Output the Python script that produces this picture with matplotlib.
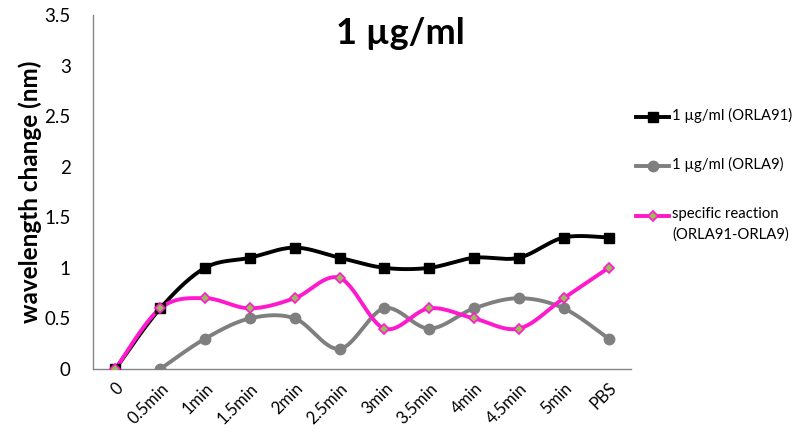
import numpy as np
import matplotlib
matplotlib.use("Agg")
import matplotlib.pyplot as plt
from matplotlib.lines import Line2D

plt.rcParams['font.family'] = ['Lato', 'DejaVu Sans']

categories = ["0", "0.5min", "1min", "1.5min", "2min", "2.5min", "3min",
              "3.5min", "4min", "4.5min", "5min", "PBS"]
orla91 = [0, 0.6, 1.0, 1.1, 1.2, 1.1, 1.0, 1.0, 1.1, 1.1, 1.3, 1.3]
orla9 = [np.nan, 0, 0.3, 0.5, 0.5, 0.2, 0.6, 0.4, 0.6, 0.7, 0.6, 0.3]
specific = [0, 0.6, 0.7, 0.6, 0.7, 0.9, 0.4, 0.6, 0.5, 0.4, 0.7, 1.0]
labels = ["1 µg/ml (ORLA91)", "1 µg/ml (ORLA9)", "specific reaction\n(ORLA91-ORLA9)"]
yticks = [0, 0.5, 1, 1.5, 2, 2.5, 3, 3.5]


def smooth(x, y, n=30):
    """Catmull-Rom style bezier smoothing through the given points."""
    x = np.asarray(x, float)
    y = np.asarray(y, float)
    px, py = [], []
    m = len(x)
    for i in range(m - 1):
        x0, y0 = (x[i - 1], y[i - 1]) if i > 0 else (x[i], y[i])
        x3, y3 = (x[i + 2], y[i + 2]) if i + 2 < m else (x[i + 1], y[i + 1])
        x1, y1, x2, y2 = x[i], y[i], x[i + 1], y[i + 1]
        c1x, c1y = x1 + (x2 - x0) / 6, y1 + (y2 - y0) / 6
        c2x, c2y = x2 - (x3 - x1) / 6, y2 - (y3 - y1) / 6
        t = np.linspace(0, 1, n)
        bx = (1-t)**3*x1 + 3*(1-t)**2*t*c1x + 3*(1-t)*t**2*c2x + t**3*x2
        by = (1-t)**3*y1 + 3*(1-t)**2*t*c1y + 3*(1-t)*t**2*c2y + t**3*y2
        px.extend(bx)
        py.extend(by)
    return np.array(px), np.array(py)


W, H = 805, 433
fig = plt.figure(figsize=(W / 100, H / 100), dpi=100)
ax = fig.add_axes([93/W, 1 - 369/H, (631 - 93)/W, (369 - 15)/H])

xs = np.arange(len(categories))

series = [
    (orla91, dict(color="black", marker="s", ms=7.5, mfc="black", mec="black")),
    (orla9, dict(color="#7F7F7F", marker="o", ms=7.5, mfc="#7F7F7F", mec="#7F7F7F")),
    (specific, dict(color="#FF19CC", marker="D", ms=5, mfc="#9BBB59", mec="#FF19CC", mew=1.2)),
]

for vals, st in series:
    v = np.asarray(vals, float)
    ok = ~np.isnan(v)
    sx, sy = smooth(xs[ok], v[ok])
    ax.plot(sx, sy, color=st["color"], lw=2.8, solid_capstyle="round", zorder=2)
    ax.plot(xs[ok], v[ok], ls="none", marker=st["marker"], ms=st["ms"],
            mfc=st["mfc"], mec=st["mec"], mew=st.get("mew", 1), zorder=3)

ax.set_xlim(-0.5, len(categories) - 0.5)
ax.set_ylim(0, 3.5)
ax.set_yticks(yticks)
ax.set_yticklabels([f"{t:g}" for t in yticks], fontsize=13.5)
ax.set_xticks(xs)
ax.set_xticklabels(categories, rotation=45, ha="right", rotation_mode="anchor", fontsize=12)
ax.tick_params(length=0, pad=8)
ax.tick_params(axis="y", pad=16)
for s in ["top", "right"]:
    ax.spines[s].set_visible(False)
for s in ["left", "bottom"]:
    ax.spines[s].set_color("#868686")
    ax.spines[s].set_linewidth(1)

ax.set_ylabel("wavelength change (nm)", fontsize=17.5, fontweight="bold", labelpad=2)
fig.text(400/W, 1 - 33/H, "1 µg/ml", ha="center", va="center",
         fontsize=26, fontweight="bold")

# legend: sample line with marker, label to its right
leg_rows = [117, 166, 216]
for (vals, st), label, yp in zip(series, labels, leg_rows):
    yf = 1 - yp / H
    fig.add_artist(Line2D([636/W, 669/W], [yf, yf], transform=fig.transFigure,
                          color=st["color"], lw=2.8))
    fig.add_artist(Line2D([652.5/W], [yf], transform=fig.transFigure, ls="none",
                          marker=st["marker"], ms=st["ms"], mfc=st["mfc"],
                          mec=st["mec"], mew=st.get("mew", 1)))
    fig.text(672/W, yf + 9/H, label, ha="left", va="top", fontsize=10.7,
             linespacing=1.6, transform=fig.transFigure)

fig.savefig("out.png", dpi=100)
